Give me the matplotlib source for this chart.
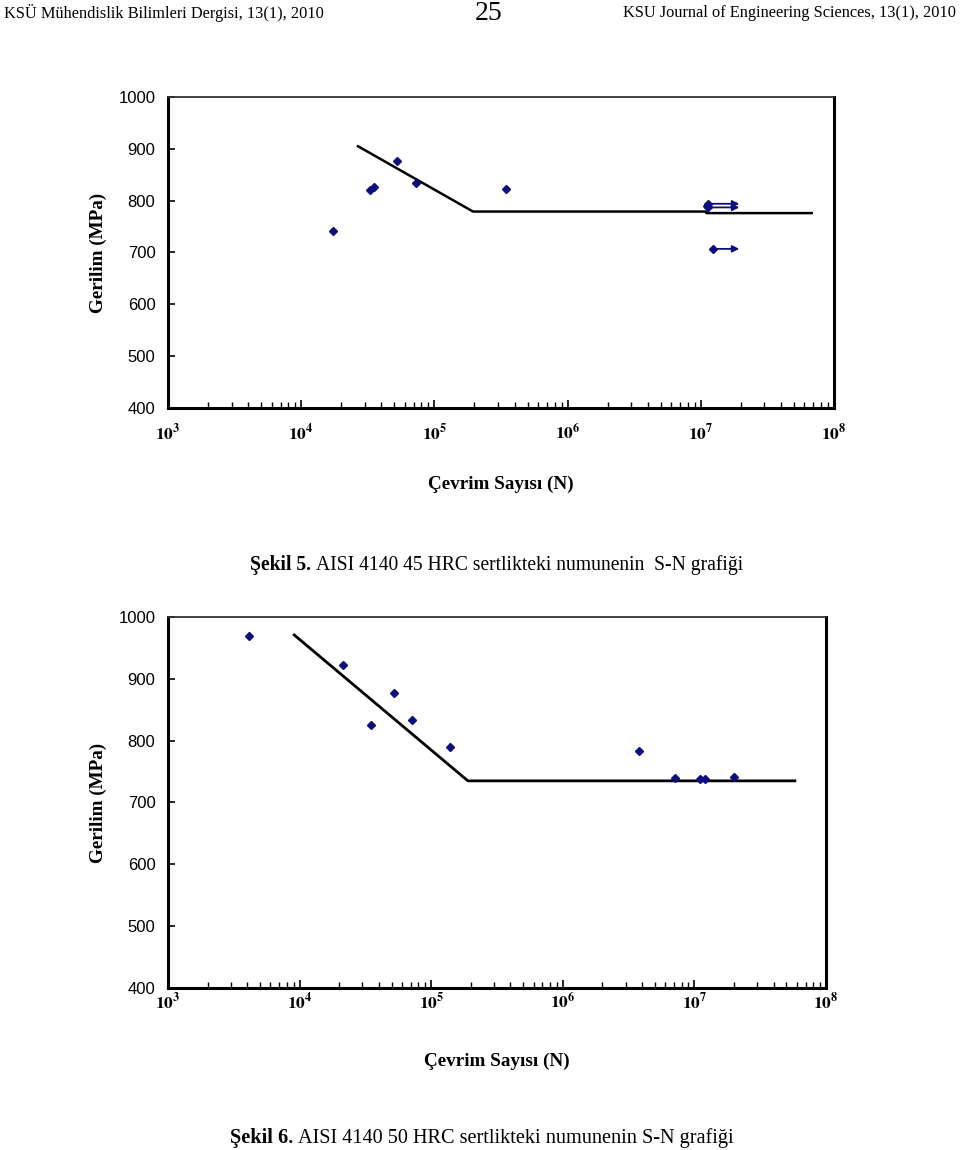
import matplotlib
matplotlib.use('Agg')
import matplotlib.pyplot as plt
from matplotlib.ticker import LogLocator, FixedLocator, NullFormatter

plt.rcParams['font.family'] = ['Liberation Serif', 'DejaVu Serif']
plt.rcParams['mathtext.fontset'] = 'stix'

# Sekil 5 - 45 HRC
n5 = [1.73e4, 3.3e4, 3.5e4, 5.2e4, 7.3e4, 3.45e5, 1.12e7]
s5 = [741, 821, 826, 876, 834, 822, 790]
runout5_start = [1.13e7, 1.13e7, 1.23e7]
runout5_end = [2.04e7, 2.04e7, 2.04e7]
runout5_s = [794, 787, 707]
fit5_n = [2.67e4, 1.95e5, 1.1e7, 1.1e7, 6.8e7]
fit5_s = [905, 779, 779, 776, 776]

# Sekil 6 - 50 HRC
n6 = [4.1e3, 2.14e4, 3.5e4, 5.2e4, 7.15e4, 1.39e5, 3.8e6, 7.1e6, 1.1e7, 1.2e7, 2.0e7]
s6 = [969, 922, 825, 877, 833, 790, 783, 739, 738, 738, 741]
fit6_n = [9.1e3, 1.9e5, 5.8e7]
fit6_s = [971, 735, 735]

y_ticks = [400, 500, 600, 700, 800, 900, 1000]
x_ticks = [1e3, 1e4, 1e5, 1e6, 1e7, 1e8]
x_labels = [r'$\mathbf{10^{%d}}$' % k for k in range(3, 9)]

navy = '#0d0d80'


def style_axes(ax, xpad):
    ax.set_xscale('log')
    ax.set_xlim(1e3, 1e8)
    ax.set_ylim(400, 1000)
    ax.yaxis.set_major_locator(FixedLocator(y_ticks))
    ax.set_yticklabels([str(v) for v in y_ticks], family='Liberation Sans', fontsize=12)
    ax.xaxis.set_major_locator(FixedLocator(x_ticks))
    ax.set_xticklabels(x_labels, fontsize=12.5)
    ax.xaxis.set_minor_locator(LogLocator(base=10, subs=range(2, 10), numticks=20))
    ax.xaxis.set_minor_formatter(NullFormatter())
    ax.tick_params(axis='y', direction='in', length=5, width=1.2, pad=9)
    ax.tick_params(axis='x', which='major', direction='in', length=6, width=1.2, pad=xpad)
    ax.tick_params(axis='x', which='minor', direction='in', length=4, width=1.0)
    for side in ['left', 'bottom', 'right']:
        ax.spines[side].set_linewidth(2.2)
        ax.spines[side].set_color('black')
    ax.spines['top'].set_linewidth(1.3)
    ax.spines['top'].set_color('#333333')


def caption(fig, x, y, bold, rest, size):
    t = fig.text(x, y, bold, fontsize=size, fontweight='bold', ha='left', va='center')
    fig.canvas.draw()
    bb = t.get_window_extent()
    fig.text((bb.x1 + 5) / fig.bbox.width, y, rest, fontsize=size, ha='left', va='center')


fig = plt.figure(figsize=(9.6, 11.5), dpi=100)

# header
fig.text(0.004, 0.9887, 'KSÜ Mühendislik Bilimleri Dergisi, 13(1), 2010', fontsize=11.8, ha='left', va='center')
fig.text(0.509, 0.9885, '25', fontsize=20, ha='center', va='center')
fig.text(0.996, 0.9887, 'KSU Journal of Engineering Sciences, 13(1), 2010', fontsize=11.8, ha='right', va='center')

# top chart
ax1 = fig.add_axes([0.175, 0.64522, 0.69375, 0.27043])
style_axes(ax1, 11)
ax1.plot(fit5_n, fit5_s, color='black', lw=1.8)
ax1.plot(n5, s5, 'D', color=navy, ms=4.5, ls='none')
for a, b, s in zip(runout5_start, runout5_end, runout5_s):
    ax1.annotate('', xy=(b, s), xytext=(a, s),
                 arrowprops=dict(arrowstyle='-|>', color=navy, lw=1.3, mutation_scale=10))
    ax1.plot([a], [s], 'D', color=navy, ms=4)
ax1.set_ylabel('Gerilim (MPa)', fontsize=13.8, fontweight='bold', labelpad=8)
ax1.set_xlabel('Çevrim Sayısı (N)', fontsize=13.8, fontweight='bold', labelpad=23)

caption(fig, 250 / 960, 1 - 565 / 1150, 'Şekil 5.', 'AISI 4140 45 HRC sertlikteki numunenin  S-N grafiği', 14.1)

# bottom chart
ax2 = fig.add_axes([0.175, 0.14087, 0.68542, 0.32261])
style_axes(ax2, 3)
ax2.plot(fit6_n, fit6_s, color='black', lw=2.0)
ax2.plot(n6, s6, 'D', color=navy, ms=4.5, ls='none')
ax2.set_ylabel('Gerilim (MPa)', fontsize=13.8, fontweight='bold', labelpad=8)
ax2.set_xlabel('Çevrim Sayısı (N)', fontsize=13.8, fontweight='bold', labelpad=29)

caption(fig, 230 / 960, 1 - 1138 / 1150, 'Şekil 6.', 'AISI 4140 50 HRC sertlikteki numunenin S-N grafiği', 14.6)

fig.savefig('out.png', dpi=100)
